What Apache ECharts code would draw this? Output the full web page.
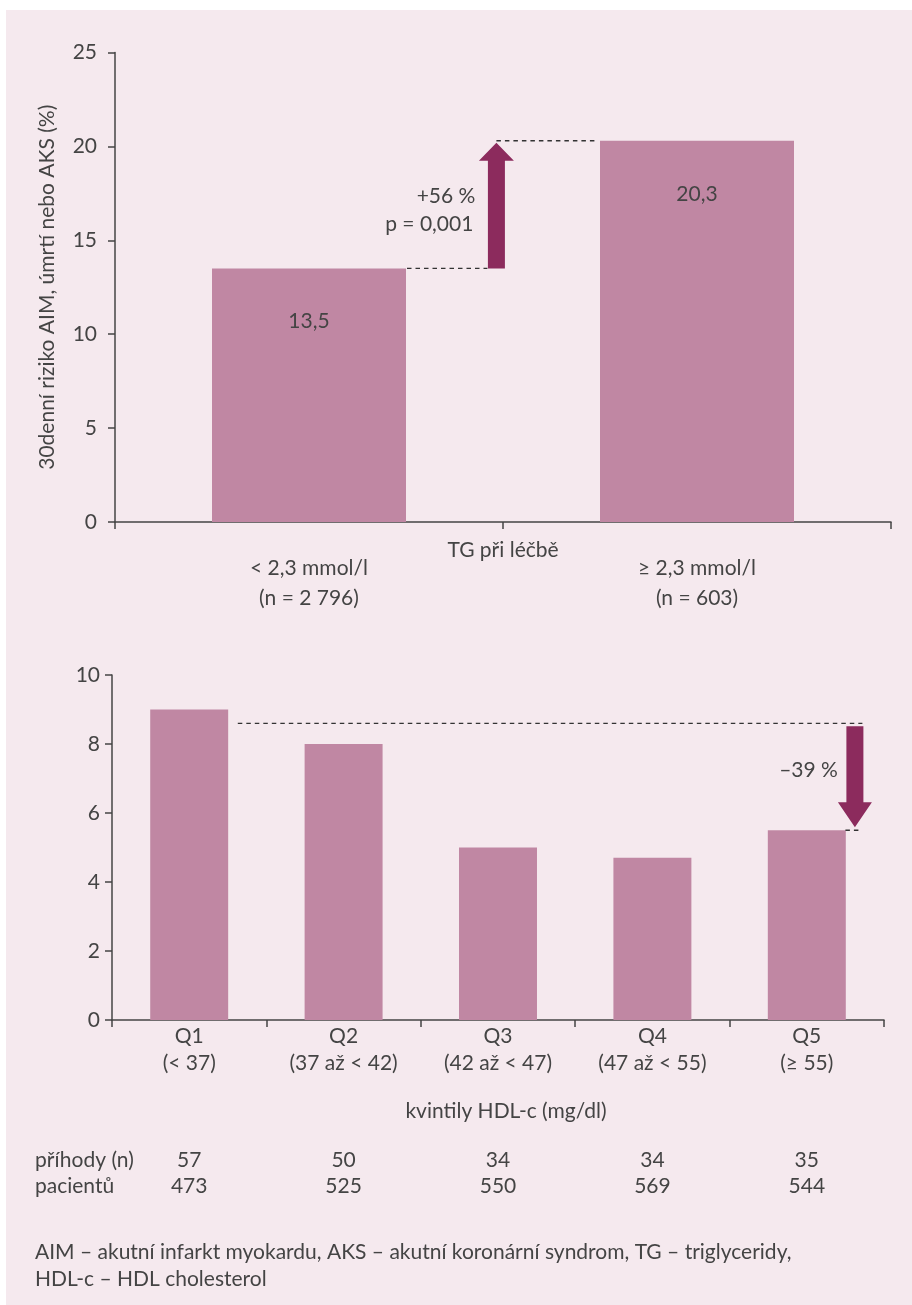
<!DOCTYPE html>
<html><head><meta charset="utf-8">
<script src="https://cdn.jsdelivr.net/npm/echarts@6.0.0/dist/echarts.min.js"></script>
<style>
html,body{margin:0;padding:0;background:#fff;}
#panel{position:absolute;left:6px;top:10px;right:0;bottom:0;background:#f5e9ee;}
#c{position:absolute;left:0;top:0;width:912px;height:1305px;}
</style></head><body><div id="panel"></div><div id="c"></div>
<script>
// ---- data ----
const tgCategories = ['< 2,3 mmol/l\n(n = 2 796)', '≥ 2,3 mmol/l\n(n = 603)'];
const tgRisk = [13.5, 20.3];
const tgArrowValues = [0, 13.5, 20.3];
const tgArrowTexts = ['+56 %', 'p = 0,001'];

const hdlCategories = ['Q1\n(< 37)', 'Q2\n(37 až < 42)', 'Q3\n(42 až < 47)', 'Q4\n(47 až < 55)', 'Q5\n(≥ 55)'];
const hdlRisk = [9.0, 8.0, 5.0, 4.7, 5.5];
const hdlArrowValues = [4, 8.6, 5.5];
const hdlArrowTexts = ['–39 %'];
const hdlEvents = [57, 50, 34, 34, 35];
const hdlPatients = [473, 525, 550, 569, 544];

const rowLabels = ['příhody (n)', 'pacientů'];
const footnoteLines = ['AIM – akutní infarkt myokardu, AKS – akutní koronární syndrom, TG – triglyceridy,', 'HDL-c – HDL cholesterol'];

// ---- styles ----
const FONT = 'Lato';
const TXT = '#444';
const BAR = '#c087a3';
const ARROW = '#8c2b5d';
const AXIS = '#444';
const FS = 21;
const dash = {stroke: '#333', lineWidth: 1.3, lineDash: [4.5, 4]};

const chart = echarts.init(document.getElementById('c'), null, {renderer: 'canvas'});

function axisLineStyle() { return {show: true, lineStyle: {color: AXIS, width: 1.5}}; }

function tgRender(params, api) {
  const lo = api.coord([api.value(0), api.value(1)]);
  const hi = api.coord([api.value(0), api.value(2)]);
  const band = api.size([1, 0])[0];
  const cx = lo[0];
  const barR = cx + band * 0.25;
  const ax = cx + band * 0.483;
  const bar2L = cx + band * 0.75;
  const yLo = lo[1], yHi = hi[1];
  const mid = (yLo + yHi) / 2;
  return {type: 'group', children: [
    {type: 'line', shape: {x1: barR + 1, y1: yLo, x2: ax - 9, y2: yLo}, style: dash},
    {type: 'line', shape: {x1: ax, y1: yHi, x2: bar2L - 3, y2: yHi}, style: dash},
    {type: 'polygon', shape: {points: [[ax - 8.5, yLo], [ax + 8.5, yLo], [ax + 8.5, yHi + 20], [ax + 17.5, yHi + 20], [ax, yHi + 2], [ax - 17.5, yHi + 20], [ax - 8.5, yHi + 20]]}, style: {fill: ARROW}},
    {type: 'text', style: {text: tgArrowTexts[0], x: ax - 21, y: mid - 8, align: 'right', verticalAlign: 'middle', fill: TXT, font: FS + 'px ' + FONT}},
    {type: 'text', style: {text: tgArrowTexts[1], x: ax - 23, y: mid + 20, align: 'right', verticalAlign: 'middle', fill: TXT, font: FS + 'px ' + FONT}}
  ]};
}

function hdlRender(params, api) {
  const lo = api.coord([api.value(0), api.value(2)]);
  const hi = api.coord([api.value(0), api.value(1)]);
  const first = api.coord([0, api.value(1)]);
  const band = api.size([1, 0])[0];
  const barR = lo[0] + band * 0.25;
  const ax = barR + 9.5;
  const yLo = lo[1], yHi = hi[1];
  const startX = first[0] + band * 0.25 + 10;
  return {type: 'group', children: [
    {type: 'line', shape: {x1: startX, y1: yHi, x2: barR + 17, y2: yHi}, style: dash},
    {type: 'line', shape: {x1: barR, y1: yLo, x2: barR + 16, y2: yLo}, style: dash},
    {type: 'polygon', shape: {points: [[ax - 8.5, yHi + 3], [ax + 8.5, yHi + 3], [ax + 8.5, yLo - 28], [ax + 17, yLo - 28], [ax, yLo - 3], [ax - 17, yLo - 28], [ax - 8.5, yLo - 28]]}, style: {fill: ARROW}},
    {type: 'text', style: {text: hdlArrowTexts[0], x: ax - 17, y: (yHi + yLo) / 2 - 6.5, align: 'right', verticalAlign: 'middle', fill: TXT, font: FS + 'px ' + FONT}}
  ]};
}

const lbl = {fontSize: FS, color: TXT, fontFamily: FONT};

const option = {
  animation: false,
  textStyle: {fontFamily: FONT, color: TXT},
  grid: [
    {left: 115, top: 52.5, width: 776, height: 469.5},
    {left: 112, top: 675, width: 772, height: 345}
  ],
  xAxis: [
    {type: 'category', gridIndex: 0, data: tgCategories,
     axisLine: axisLineStyle(), axisTick: {show: true, length: 7, lineStyle: {color: AXIS, width: 1.5}},
     axisLabel: Object.assign({margin: 31, lineHeight: 30}, lbl),
     name: 'TG při léčbě', nameLocation: 'middle', nameGap: 18, nameMoveOverlap: false, nameTextStyle: lbl},
    {type: 'category', gridIndex: 1, data: hdlCategories,
     axisLine: axisLineStyle(), axisTick: {show: true, length: 7, lineStyle: {color: AXIS, width: 1.5}},
     axisLabel: Object.assign({margin: 3, lineHeight: 27}, lbl),
     name: 'kvintily HDL-c (mg/dl)', nameLocation: 'middle', nameGap: 81, nameMoveOverlap: false,
     nameTextStyle: Object.assign({padding: [0, 0, 0, 16]}, lbl)},
    {type: 'category', gridIndex: 1, data: hdlEvents.map(String), position: 'bottom', offset: 128,
     axisLine: {show: false}, axisTick: {show: false},
     axisLabel: Object.assign({margin: 0, lineHeight: 24}, lbl)},
    {type: 'category', gridIndex: 1, data: hdlPatients.map(String), position: 'bottom', offset: 154,
     axisLine: {show: false}, axisTick: {show: false},
     axisLabel: Object.assign({margin: 0, lineHeight: 24}, lbl)}
  ],
  yAxis: [
    {type: 'value', gridIndex: 0, min: 0, max: 25, interval: 5,
     axisLine: axisLineStyle(), axisTick: {show: true, length: 7, lineStyle: {color: AXIS, width: 1.5}},
     splitLine: {show: false}, axisLabel: Object.assign({margin: 18}, lbl),
     name: '30denní riziko AIM, úmrtí nebo AKS (%)', nameLocation: 'middle', nameGap: 57, nameMoveOverlap: false, nameTextStyle: lbl},
    {type: 'value', gridIndex: 1, min: 0, max: 10, interval: 2,
     axisLine: axisLineStyle(), axisTick: {show: true, length: 7, lineStyle: {color: AXIS, width: 1.5}},
     splitLine: {show: false}, axisLabel: Object.assign({margin: 12}, lbl)}
  ],
  series: [
    {type: 'bar', xAxisIndex: 0, yAxisIndex: 0, data: tgRisk, barWidth: '50%',
     itemStyle: {color: BAR},
     label: {show: true, position: ['50%', 53], align: 'center', verticalAlign: 'middle',
             fontSize: FS, color: TXT, fontFamily: FONT,
             formatter: p => String(p.value).replace('.', ',')}},
    {type: 'bar', xAxisIndex: 1, yAxisIndex: 1, data: hdlRisk, barWidth: '50.5%',
     itemStyle: {color: BAR}},
    {type: 'custom', xAxisIndex: 0, yAxisIndex: 0, data: [tgArrowValues], renderItem: tgRender, clip: false, z: 5},
    {type: 'custom', xAxisIndex: 1, yAxisIndex: 1, data: [hdlArrowValues], renderItem: hdlRender, clip: false, z: 5}
  ],
  graphic: [
    {type: 'text', style: {text: rowLabels[0], x: 35, y: 1160, verticalAlign: 'middle', fill: TXT, font: FS + 'px ' + FONT}},
    {type: 'text', style: {text: rowLabels[1], x: 35, y: 1186, verticalAlign: 'middle', fill: TXT, font: FS + 'px ' + FONT}},
    {type: 'text', style: {text: footnoteLines[0], x: 35, y: 1252, verticalAlign: 'middle', fill: TXT, font: FS + 'px ' + FONT}},
    {type: 'text', style: {text: footnoteLines[1], x: 35, y: 1279, verticalAlign: 'middle', fill: TXT, font: FS + 'px ' + FONT}}
  ]
};
chart.setOption(option);
</script></body></html>
